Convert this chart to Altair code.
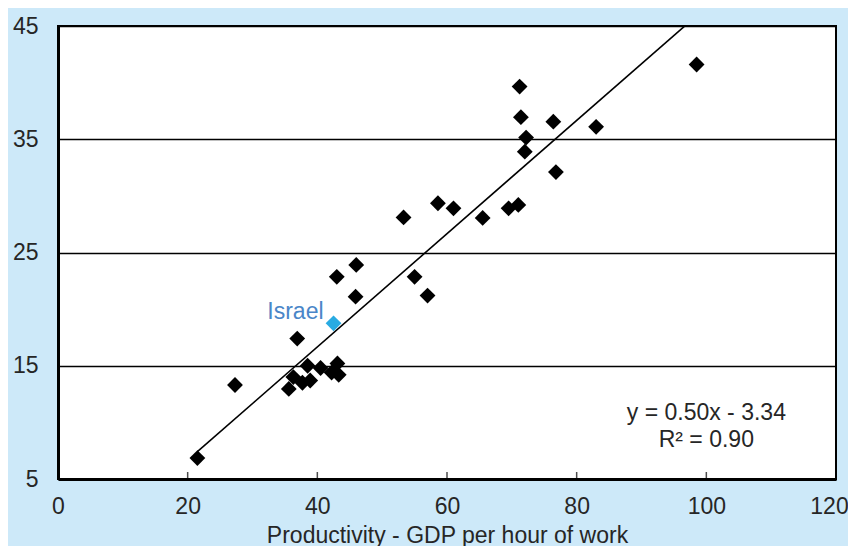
import altair as alt
import pandas as pd

# Productivity (GDP per hour of work) vs. y value, one diamond per country
x_vals = [21.5, 27.3, 36.9, 35.6, 36.3, 37.7, 38.5, 38.9, 40.5, 42.2, 43.3, 43.1,
          43.0, 46.0, 45.9, 53.3, 55.0, 57.0, 58.6, 61.0, 65.5, 69.5, 71.0,
          71.2, 71.4, 72.2, 72.0, 76.4, 76.8, 83.0, 98.5]
y_vals = [6.85, 13.3, 17.4, 12.95, 14.0, 13.5, 15.0, 13.7, 14.8, 14.4, 14.2, 15.2,
          22.85, 23.9, 21.1, 28.1, 22.85, 21.2, 29.35, 28.9, 28.05, 28.9, 29.2,
          39.65, 36.95, 35.15, 33.9, 36.55, 32.1, 36.1, 41.6]

israel_x = [42.5]
israel_y = [18.75]
israel_label = ["Israel"]

# Linear trend line (from the equation shown on the chart)
slope = 0.50
intercept = -3.34
line_x = [21.5, 98.5]

eq_text = ["y = 0.50x - 3.34", "R\u00b2 = 0.90"]
eq_x = [100.0, 100.0]
eq_y = [10.8, 8.45]

x_ticks = [0, 20, 40, 60, 80, 100, 120]
inner_ticks = [20, 40, 60, 80, 100]
y_ticks = [5, 15, 25, 35, 45]

FONT = "Liberation Sans"
FS = 23
TXT = "#262626"

df = pd.DataFrame({"x": x_vals, "y": y_vals})
isr = pd.DataFrame({"x": israel_x, "y": israel_y, "label": israel_label})
line_df = pd.DataFrame({"x": line_x, "y": [slope * v + intercept for v in line_x]})
eq_df = pd.DataFrame({"x": eq_x, "y": eq_y, "t": eq_text})
tick_df = pd.DataFrame({"x": inner_ticks})

xs = alt.Scale(domain=[0, 120], nice=False, zero=False)
ys = alt.Scale(domain=[5, 45], nice=False, zero=False)

x_axis = alt.Axis(values=x_ticks, title="Productivity - GDP per hour of work",
                  grid=False, ticks=False, domain=True, domainColor="black",
                  domainWidth=3, labelFontSize=FS, labelFont=FONT, labelColor=TXT,
                  labelPadding=16, labelFlush=False, labelOverlap=False,
                  labelOffset={"condition": {"test": "datum.value == 120", "value": -7},
                               "value": 0},
                  titleFontSize=FS, titleFont=FONT, titleColor=TXT,
                  titleFontWeight="normal", titleBaseline="alphabetic", titleY=63)
y_axis = alt.Axis(values=y_ticks, title=None, grid=True, gridColor="black",
                  gridWidth=1.5, gridOpacity=1, ticks=False, domain=True,
                  domainColor="black", domainWidth=3, labelFontSize=FS,
                  labelFont=FONT, labelColor=TXT, labelPadding=20,
                  labelFlush=False, labelOverlap=False)

points = alt.Chart(df).mark_point(shape="diamond", filled=True, size=250,
                                  color="black", opacity=1).encode(
    x=alt.X("x:Q", scale=xs, axis=x_axis),
    y=alt.Y("y:Q", scale=ys, axis=y_axis),
)

trend = alt.Chart(line_df).mark_line(color="black", strokeWidth=1.6, clip=True).encode(
    x=alt.X("x:Q", scale=xs),
    y=alt.Y("y:Q", scale=ys),
)

ticks = alt.Chart(tick_df).mark_tick(orient="vertical", size=7, thickness=1.5,
                                     color="black", yOffset=-3.5).encode(
    x=alt.X("x:Q", scale=xs),
    y=alt.datum(5),
)

israel_pt = alt.Chart(isr).mark_point(shape="diamond", filled=True, size=250,
                                      color="#29abe2", opacity=1).encode(
    x=alt.X("x:Q", scale=xs),
    y=alt.Y("y:Q", scale=ys),
)

israel_txt = alt.Chart(isr).mark_text(align="right", baseline="middle", dx=-10, dy=-11,
                                      font=FONT, fontSize=FS, color="#4a86c8").encode(
    x=alt.X("x:Q", scale=xs),
    y=alt.Y("y:Q", scale=ys),
    text="label:N",
)

eq = alt.Chart(eq_df).mark_text(align="center", baseline="middle", font=FONT,
                                fontSize=FS, color=TXT).encode(
    x=alt.X("x:Q", scale=xs),
    y=alt.Y("y:Q", scale=ys),
    text="t:N",
)

chart = alt.layer(points, trend, ticks, israel_pt, israel_txt, eq).properties(
    width=778, height=453,
    autosize=alt.AutoSizeParams(type="none"),
    padding={"left": 50, "top": 18, "right": 12, "bottom": 67},
    background="#cde9f9",
).configure_view(fill="white", stroke="black", strokeWidth=2)

chart.save("out.html", embed_options={"renderer": "svg", "actions": False})
